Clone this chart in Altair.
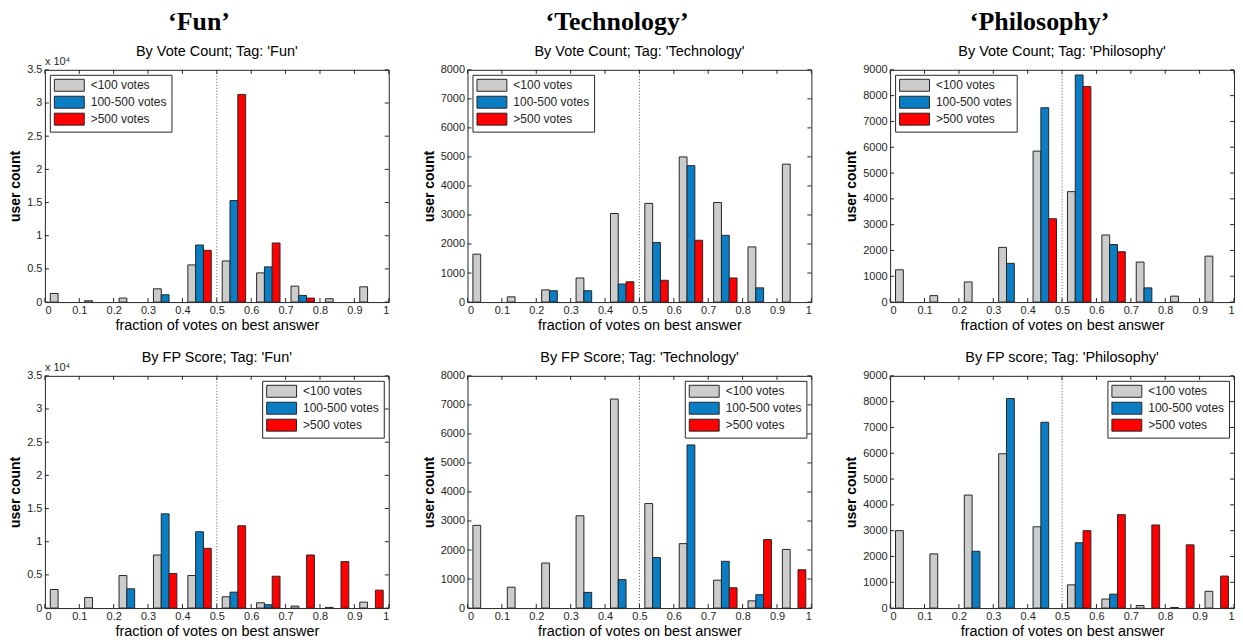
import altair as alt
import pandas as pd

# ---------------- data ----------------
bin_starts = [0.0, 0.1, 0.2, 0.3, 0.4, 0.5, 0.6, 0.7, 0.8, 0.9]
series = ["<100 votes", "100-500 votes", ">500 votes"]
colors = ["#CCCCCC", "#0A7EC4", "#FF0000"]
x_ticks = [0, 0.1, 0.2, 0.3, 0.4, 0.5, 0.6, 0.7, 0.8, 0.9, 1.0]

# By vote count
fun_vc_low = [1300, 200, 600, 2000, 5600, 6200, 4400, 2400, 500, 2300]
fun_vc_mid = [0, 0, 0, 1100, 8600, 15300, 5300, 1000, 0, 0]
fun_vc_high = [0, 0, 0, 0, 7800, 31300, 8900, 600, 0, 0]

tech_vc_low = [1650, 180, 420, 830, 3050, 3400, 5000, 3430, 1900, 4750]
tech_vc_mid = [0, 0, 390, 390, 620, 2050, 4700, 2300, 490, 0]
tech_vc_high = [0, 0, 0, 0, 700, 750, 2130, 830, 0, 0]

phil_vc_low = [1250, 250, 780, 2120, 5850, 4280, 2600, 1550, 230, 1780]
phil_vc_mid = [0, 0, 0, 1500, 7530, 8800, 2230, 550, 0, 0]
phil_vc_high = [0, 0, 0, 0, 3230, 8350, 1950, 0, 0, 0]

# By FP score
fun_fp_low = [2800, 1600, 4900, 8000, 4900, 1700, 800, 300, 100, 900]
fun_fp_mid = [0, 0, 2900, 14200, 11500, 2400, 500, 0, 0, 0]
fun_fp_high = [0, 0, 0, 5200, 9000, 12400, 4800, 8000, 7000, 2700]

tech_fp_low = [2850, 720, 1550, 3180, 7200, 3600, 2220, 960, 250, 2020]
tech_fp_mid = [0, 0, 0, 540, 980, 1740, 5620, 1610, 460, 0]
tech_fp_high = [0, 0, 0, 0, 0, 0, 0, 700, 2360, 1320]

phil_fp_low = [3000, 2100, 4380, 5980, 3150, 900, 350, 100, 20, 650]
phil_fp_mid = [0, 0, 2200, 8120, 7200, 2530, 540, 0, 0, 0]
phil_fp_high = [0, 0, 0, 0, 0, 3000, 3620, 3220, 2450, 1240]

# ---------------- layout constants ----------------
W, H = 345, 233
GROUP_OFFSET = 0.0157
BAR_W = 0.0227
FONT = "Liberation Sans"
INK = "#262626"


def make_df(low, mid, high):
    rows = []
    for k, (name, vals) in enumerate(zip(series, [low, mid, high])):
        for i, v in enumerate(vals):
            if v > 0:
                x0 = bin_starts[i] + GROUP_OFFSET + k * BAR_W
                rows.append({"series": name, "x": x0, "x2": x0 + BAR_W, "count": v})
    return pd.DataFrame(rows)


def panel(title, low, mid, high, ymax, ystep, legend_orient, scaled):
    df = make_df(low, mid, high)
    y_ticks = list(range(0, ymax + 1, ystep))
    xscale = alt.Scale(domain=[0, 1], nice=False, zero=False)
    yscale = alt.Scale(domain=[0, ymax], nice=False)
    if scaled:
        ylabel = "format(datum.value/10000, '~g')"
    else:
        ylabel = "format(datum.value, 'd')"
    xaxis = alt.Axis(values=x_ticks, format="~g", title="fraction of votes on best answer",
                     ticks=False, domain=False, grid=False, labelPadding=2)
    yaxis = alt.Axis(values=y_ticks, labelExpr=ylabel, title="user count",
                     ticks=False, domain=False, grid=False, labelPadding=3)

    bars = alt.Chart(df).mark_rect(stroke=INK, strokeWidth=1, opacity=1).encode(
        x=alt.X("x:Q", scale=xscale, axis=xaxis),
        x2="x2:Q",
        y=alt.Y("count:Q", scale=yscale, axis=yaxis),
        y2=alt.datum(0),
        color=alt.Color("series:N", sort=series,
                        scale=alt.Scale(domain=series, range=colors),
                        legend=alt.Legend(orient=legend_orient, title=None, offset=5,
                                          strokeColor=INK, fillColor="white", padding=4,
                                          symbolType="M-2.5,-1H2.5V1H-2.5Z", symbolSize=144,
                                          symbolStrokeColor=INK, symbolStrokeWidth=1,
                                          symbolOpacity=1, symbolOffset=9, labelOffset=15,
                                          labelFontSize=12, labelFont=FONT, labelColor=INK,
                                          rowPadding=0)),
    )

    half = alt.Chart(pd.DataFrame({"x": [0.5]})).mark_rule(
        color="#555555", strokeDash=[1, 2], strokeWidth=1
    ).encode(x=alt.X("x:Q", scale=xscale, axis=xaxis))

    ydf = pd.DataFrame({"count": y_ticks})
    xdf = pd.DataFrame({"x": x_ticks})
    yt_left = alt.Chart(ydf).mark_rule(color=INK).encode(
        y=alt.Y("count:Q", scale=yscale, axis=yaxis), x=alt.value(0), x2=alt.value(4))
    yt_right = alt.Chart(ydf).mark_rule(color=INK).encode(
        y=alt.Y("count:Q", scale=yscale, axis=yaxis), x=alt.value(W - 4), x2=alt.value(W))
    xt_bot = alt.Chart(xdf).mark_rule(color=INK).encode(
        x=alt.X("x:Q", scale=xscale, axis=xaxis), y=alt.value(H - 4), y2=alt.value(H))
    xt_top = alt.Chart(xdf).mark_rule(color=INK).encode(
        x=alt.X("x:Q", scale=xscale, axis=xaxis), y=alt.value(0), y2=alt.value(4))

    layers = [bars, half, yt_left, yt_right, xt_bot, xt_top]
    toff = 4
    if scaled:
        mult = alt.Chart(pd.DataFrame({"t": ["x 10⁴"]})).mark_text(
            align="left", baseline="bottom", fontSize=11, font=FONT, color=INK
        ).encode(x=alt.value(0), y=alt.value(-3), text="t:N")
        layers.append(mult)
        toff = -4

    return alt.layer(*layers).properties(
        width=W, height=H,
        title=alt.Title(title, fontSize=14.5, fontWeight="normal", font=FONT, color="black", offset=toff),
    )


def column(header, top, bottom):
    return alt.vconcat(
        top, bottom, spacing=17,
        title=alt.Title(header, font="Liberation Serif", fontSize=26, fontWeight="bold",
                        anchor="middle", color="black", offset=9),
    ).resolve_legend(color="independent").resolve_scale(color="independent")


col_fun = column(
    "‘Fun’",
    panel("By Vote Count; Tag: 'Fun'", fun_vc_low, fun_vc_mid, fun_vc_high, 35000, 5000, "top-left", True),
    panel("By FP Score; Tag: 'Fun'", fun_fp_low, fun_fp_mid, fun_fp_high, 35000, 5000, "top-right", True),
)
col_tech = column(
    "‘Technology’",
    panel("By Vote Count; Tag: 'Technology'", tech_vc_low, tech_vc_mid, tech_vc_high, 8000, 1000, "top-left", False),
    panel("By FP Score; Tag: 'Technology'", tech_fp_low, tech_fp_mid, tech_fp_high, 8000, 1000, "top-right", False),
)
col_phil = column(
    "‘Philosophy’",
    panel("By Vote Count; Tag: 'Philosophy'", phil_vc_low, phil_vc_mid, phil_vc_high, 9000, 1000, "top-left", False),
    panel("By FP score; Tag: 'Philosophy'", phil_fp_low, phil_fp_mid, phil_fp_high, 9000, 1000, "top-right", False),
)

chart = alt.hconcat(col_fun, col_tech, col_phil, spacing=32).resolve_legend(
    color="independent").resolve_scale(color="independent").configure(
    background="white", padding=0,
).configure_view(
    stroke=INK, strokeWidth=1,
).configure_axis(
    labelFont=FONT, labelFontSize=11, labelColor=INK,
    titleFont=FONT, titleColor="black",
).configure_axisX(
    titleFontSize=14.5, titleFontWeight="normal", titlePadding=4,
).configure_axisY(
    titleFontSize=14, titleFontWeight="bold", titlePadding=4,
)

chart.save("out.html", embed_options={"renderer": "svg", "actions": False})
